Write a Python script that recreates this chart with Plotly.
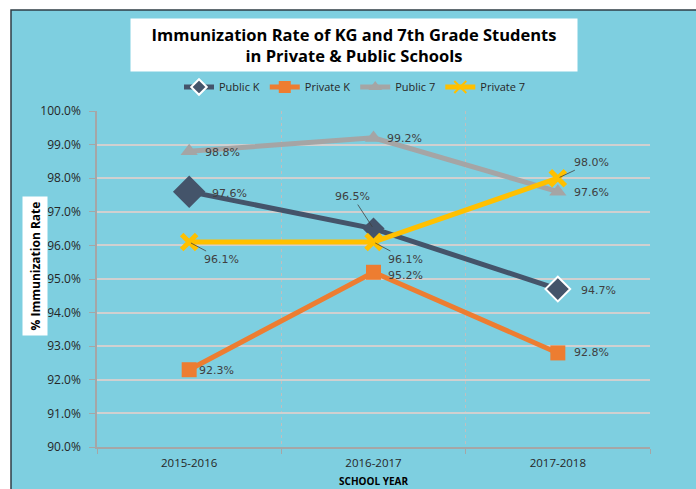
import plotly.graph_objects as go

years = ["2015-2016", "2016-2017", "2017-2018"]
public_k = [97.6, 96.5, 94.7]
private_k = [92.3, 95.2, 92.8]
public_7 = [98.8, 99.2, 97.6]
private_7 = [96.1, 96.1, 98.0]

names = ["Public K", "Private K", "Public 7", "Private 7"]
colors = ["#44546A", "#ED7D31", "#A5A5A5", "#FFC000"]
symbols = ["diamond", "square", "triangle-up", "x-thin-open"]

# label offsets (pixels) per series per point: (ax, ay, show_arrow)
label_offsets = {
    "Public K": [(40, 2, False), (-21, -32, True), (41, 1, False)],
    "Private K": [(27, 1, False), (32, 3, False), (34, 0, False)],
    "Public 7": [(33, 1, False), (31, 1, False), (34, 1, False)],
    "Private 7": [(32, 17, True), (32, 17, True), (34, -16, True)],
}

series = [public_k, private_k, public_7, private_7]

PL, PT, PW, PH = 97, 111, 553, 336  # plot area in pixels

def px_x(px):
    return (px - PL) / PW

def px_y(py):
    return 1 - (py - PT) / PH

fig = go.Figure()
for name, vals, col, sym in zip(names, series, colors, symbols):
    if sym == "x-thin-open":
        marker = dict(symbol="x-thin-open", size=15, color=col, opacity=1,
                      line=dict(width=5, color=col))
    elif sym == "diamond":
        marker = dict(symbol="diamond", size=[25, 17, 19], color=col, opacity=1,
                      line=dict(width=[0, 0, 2], color="white"))
    else:
        marker = dict(symbol=sym, size=15, color=col, opacity=1, line=dict(width=0))
    fig.add_trace(go.Scatter(
        x=years, y=vals, name=name, mode="lines+markers",
        line=dict(color=col, width=5), marker=marker,
    ))

annotations = []
for name, vals in zip(names, series):
    for yr, v, (ax, ay, arrow) in zip(years, vals, label_offsets[name]):
        annotations.append(dict(
            x=yr, y=v, xref="x", yref="y", text=f"{v:.1f}%",
            showarrow=True, arrowhead=0, arrowwidth=0.8,
            arrowcolor="#404040" if arrow else "rgba(0,0,0,0)",
            ax=ax, ay=ay, standoff=2,
            font=dict(family="DejaVu Sans", size=11, color="#404040"),
        ))

# title box
annotations.append(dict(
    x=px_x(354), y=px_y(45), xref="paper", yref="paper", xanchor="center", yanchor="middle",
    text="<b>Immunization Rate of KG and 7th Grade Students<br>in Private & Public Schools</b>",
    showarrow=False, bgcolor="white", width=444, height=50,
    font=dict(family="Open Sans", size=16.5, color="black"),
))
# y-axis title
annotations.append(dict(
    x=px_x(35), y=px_y(266), xref="paper", yref="paper", xanchor="center", yanchor="middle",
    text="<b>% Immunization Rate</b>", textangle=-90, showarrow=False,
    bgcolor="white", width=136, height=22,
    font=dict(family="Open Sans", size=12, color="black"),
))
# x-axis title
annotations.append(dict(
    x=px_x(373), y=px_y(481), xref="paper", yref="paper", xanchor="center", yanchor="middle",
    text="<b>SCHOOL YEAR</b>", showarrow=False,
    font=dict(family="Open Sans", size=10, color="black"),
))

fig.update_layout(
    width=696, height=489,
    margin=dict(l=PL, r=696 - PL - PW, t=PT, b=489 - PT - PH, autoexpand=False),
    paper_bgcolor="white", plot_bgcolor="white",
    showlegend=True,
    legend=dict(orientation="h", x=px_x(355), xanchor="center", y=px_y(87), yanchor="middle",
                font=dict(family="Open Sans", size=11, color="#262626"),
                bgcolor="rgba(0,0,0,0)", itemwidth=30, itemsizing="constant", tracegroupgap=0),
    annotations=annotations,
    shapes=[dict(type="rect", xref="paper", yref="paper",
                 x0=px_x(11), x1=px_x(720),
                 y0=px_y(520), y1=px_y(10),
                 fillcolor="#7ECFE0", line=dict(color="#2F3E46", width=1.5), layer="below")],
    font=dict(family="Open Sans", color="#404040"),
)
fig.update_xaxes(
    type="category", tickson="boundaries", showgrid=True, gridcolor="#BFBFBF", griddash="dot",
    gridwidth=1, showline=True, linecolor="#A6A6A6", linewidth=1.5, ticks="outside",
    ticklen=5, tickcolor="#A6A6A6", tickfont=dict(family="Open Sans", size=11.5, color="#262626"),
    ticklabelstandoff=4, range=[-0.5, 2.5], zeroline=False,
)
fig.update_yaxes(
    range=[90, 100], dtick=1, tickformat=".1f", ticksuffix="%", showgrid=True,
    gridcolor="#D0D0D0", gridwidth=1.5, showline=True, linecolor="#A6A6A6", linewidth=1.5,
    ticks="outside", ticklen=6, tickcolor="#A6A6A6", ticklabelstandoff=6,
    tickfont=dict(family="Open Sans", size=12, color="#262626"), zeroline=False,
)

fig.write_html("out.html", config={"displayModeBar": False},
               post_script="document.body.style.margin='0';document.body.style.overflow='hidden';")
